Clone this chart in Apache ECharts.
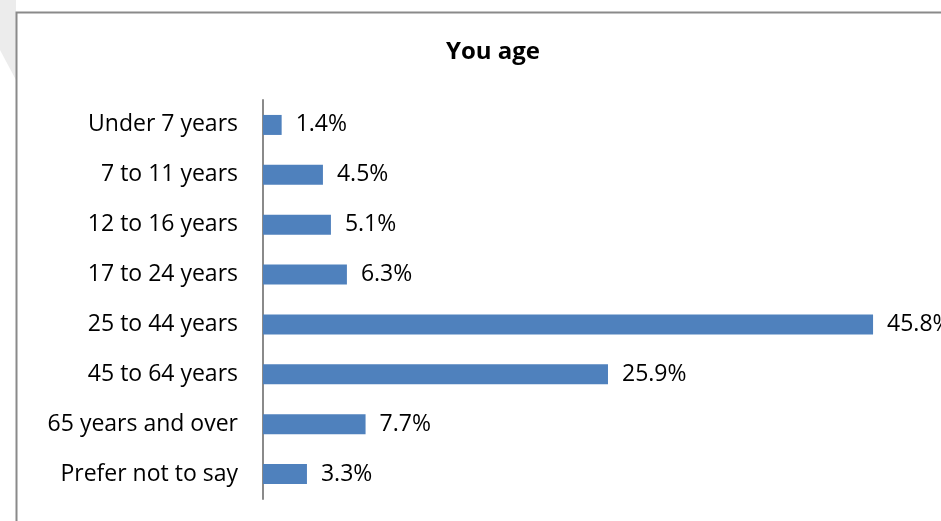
<!DOCTYPE html>
<html><head><meta charset="utf-8">
<script src="https://cdn.jsdelivr.net/npm/echarts@6/dist/echarts.min.js"></script>
<style>html,body{margin:0;padding:0;background:#fff}#c{width:941px;height:521px}</style>
</head><body><div id="c"></div>
<script>
const categories = ["Under 7 years","7 to 11 years","12 to 16 years","17 to 24 years","25 to 44 years","45 to 64 years","65 years and over","Prefer not to say"];
const values = [1.4, 4.5, 5.1, 6.3, 45.8, 25.9, 7.7, 3.3];
const titleText = "You age";
const FONT = "'Open Sans', Lato, sans-serif";
const chart = echarts.init(document.getElementById('c'), null, {renderer:'canvas'});
chart.setOption({
  animation:false,
  backgroundColor:'#fff',
  graphic:[
    {type:'polygon', shape:{points:[[0,0],[16,0],[16,80],[0,50]]}, style:{fill:'#ececec'}, z:-1},
    {type:'rect', shape:{x:16.5,y:12.5,width:1000,height:600}, style:{fill:'none',stroke:'#8a8a8a',lineWidth:2}}
  ],
  title:{text:titleText, left:488, top:35, textAlign:'center',
    textStyle:{fontFamily:FONT, fontWeight:'bold', fontSize:24, color:'#000'}},
  grid:{left:263, top:100, width:666, height:399, containLabel:false},
  xAxis:{type:'value', min:0, max:50, show:false},
  yAxis:{type:'category', data:categories, inverse:true,
    axisLine:{show:true, lineStyle:{color:'#8a8a8a', width:2}},
    axisTick:{show:false},
    axisLabel:{margin:25, fontFamily:FONT, fontSize:23, color:'#000', padding:[6,0,0,0]}},
  series:[{type:'bar', data:values, barWidth:20,
    itemStyle:{color:'#4F81BD'},
    label:{show:true, position:'right', distance:14, formatter:p=>p.value.toFixed(1)+'%',
      fontFamily:FONT, fontSize:23, color:'#000', padding:[6,0,0,0]}}]
});
</script></body></html>
